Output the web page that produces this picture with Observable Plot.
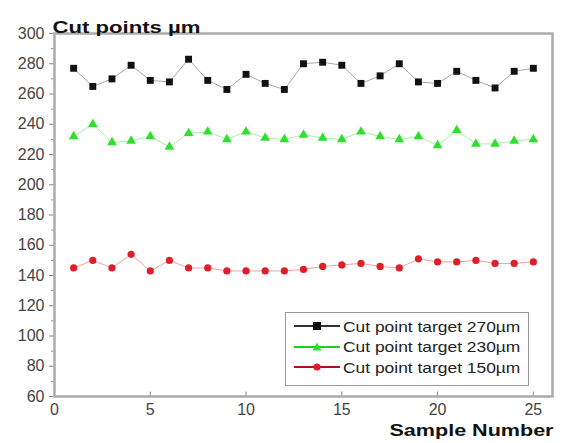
<!DOCTYPE html>
<html><head><meta charset="utf-8">
<script src="https://cdn.jsdelivr.net/npm/d3@7"></script>
<script src="https://cdn.jsdelivr.net/npm/@observablehq/plot@0.6"></script>
<style>
body{margin:0;background:#fff;font-family:"Liberation Sans",Arial,sans-serif;}
#wrap{position:relative;width:564px;height:443px;}
#legend{position:absolute;left:285px;top:312px;width:244px;height:74px;border:1px solid #999;background:#fff;font-size:15px;color:#222;box-sizing:border-box;padding-top:3px;}
#legend .row{display:flex;align-items:center;height:20.5px;white-space:nowrap;}
#legend svg{margin-left:8px;margin-right:3px;flex:none;}
#legend span{display:inline-block;transform:scaleX(1.16);transform-origin:left center;}
</style>
</head><body>
<div id="wrap"></div>
<script>
const samples = d3.range(1, 26);
const cut270 = [277,265,270,279,269,268,283,269,263,273,267,263,280,281,279,267,272,280,268,267,275,269,264,275,277];
const cut230 = [232,240,228,229,232,225,234,235,230,235,231,230,233,231,230,235,232,230,232,226,236,227,227,229,230];
const cut150 = [145,150,145,154,143,150,145,145,143,143,143,143,144,146,147,148,146,145,151,149,149,150,148,148,149];
const seriesNames = ["Cut point target 270µm","Cut point target 230µm","Cut point target 150µm"];
const seriesValues = [cut270, cut230, cut150];
const markColors = ["#111111","#2ee02e","#dd1f2a"];
const lineColors = ["#a8a8a8","#a8eea8","#f0a0a0"];
const symbols = ["square","triangle","circle"];
const radii = [3.9,3.6,3.6];
const yTicks = d3.range(60, 301, 20);
const yMinor = d3.range(70, 300, 20);
const xTicks = [0,5,10,15,20,25];
const titleText = "Cut points µm";
const xLabelText = "Sample Number";

const rows = seriesValues.map((vals, i) => vals.map((v, j) => ({x: samples[j], y: v, s: i})));

const marks = [];
rows.forEach((data, i) => {
  marks.push(Plot.line(data, {x: "x", y: "y", stroke: lineColors[i], strokeWidth: 1}));
  marks.push(Plot.dot(data, {x: "x", y: "y", symbol: () => symbols[i], fill: markColors[i], stroke: "none", r: radii[i]}));
});

const chart = Plot.plot({
  width: 564, height: 443,
  marginTop: 33, marginBottom: 47, marginLeft: 54, marginRight: 12,
  style: {fontFamily: "Liberation Sans, Arial, sans-serif", fontSize: "16px", color: "#444", background: "#fff"},
  x: {domain: [0, 26]},
  y: {domain: [60, 300]},
  marks: [
    Plot.axisY({ticks: yTicks, tickSize: 5, tickPadding: 5, label: null, stroke: "#888", fontSize: 16}),
    Plot.axisY({ticks: yMinor, tickSize: 3, text: null, label: null, stroke: "#999"}),
    Plot.axisX({ticks: xTicks, tickSize: 0, tickPadding: 7, label: null, fontSize: 16}),
    Plot.ruleX(xTicks.slice(1), {y1: 60, y2: 63, stroke: "#888"}),
    Plot.frame({stroke: "#ababab", strokeWidth: 2.5}),
    ...marks,
    Plot.text([titleText], {frameAnchor: "top-left", dx: -2, dy: -13, textAnchor: "start", fontWeight: "bold", fontSize: 17, fill: "#111"}),
    Plot.text([xLabelText], {frameAnchor: "bottom-right", dx: 1, dy: 39, textAnchor: "end", fontWeight: "bold", fontSize: 16, fill: "#111"})
  ]
});
document.getElementById("wrap").appendChild(chart);
// stretch title texts to the reference widths
d3.select(chart).selectAll("text").each(function() {
  const t = this.textContent;
  if (t === titleText) { this.setAttribute("textLength", 148); this.setAttribute("lengthAdjust", "spacingAndGlyphs"); }
  if (t === xLabelText) { this.setAttribute("textLength", 164); this.setAttribute("lengthAdjust", "spacingAndGlyphs"); }
});

const legend = document.createElement("div");
legend.id = "legend";
seriesNames.forEach((name, i) => {
  const row = document.createElement("div");
  row.className = "row";
  const sym = symbols[i];
  let shape;
  if (sym === "square") shape = `<rect x="19" y="5" width="8" height="8" fill="${markColors[i]}"/>`;
  else if (sym === "triangle") shape = `<path d="M23,4.5 L27.5,12.5 L18.5,12.5 Z" fill="${markColors[i]}"/>`;
  else shape = `<circle cx="23" cy="9" r="3.6" fill="${markColors[i]}"/>`;
  const lc = i === 0 ? "#333" : (i === 1 ? "#22cc22" : "#b01020");
  row.innerHTML = `<svg width="46" height="18"><line x1="0" y1="9" x2="46" y2="9" stroke="${lc}" stroke-width="2"/>${shape}</svg><span>${name}</span>`;
  legend.appendChild(row);
});
document.getElementById("wrap").appendChild(legend);
</script>
</body></html>
